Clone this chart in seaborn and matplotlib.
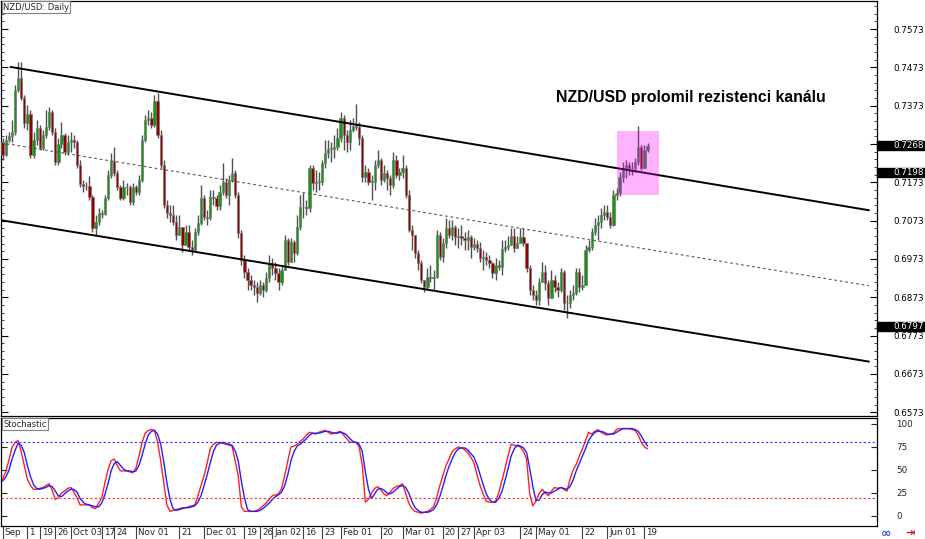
import numpy as np
import pandas as pd
import matplotlib
matplotlib.use("Agg")
import matplotlib.pyplot as plt
import matplotlib.transforms as mtransforms
from matplotlib.patches import Rectangle
from matplotlib.ticker import FixedLocator, FormatStrFormatter
import seaborn as sns

# daily NZD/USD candles, open = previous close
open_first = 0.7278
close = [
    0.7244, 0.7283, 0.7294, 0.7304, 0.7414, 0.7445, 0.7393, 0.7328, 0.7351, 0.7244,
    0.7283, 0.7315, 0.7262, 0.7296, 0.7317, 0.7356, 0.7304, 0.7226, 0.7273, 0.7296,
    0.7252, 0.7278, 0.7283, 0.7278, 0.7218, 0.7168, 0.7163, 0.7163, 0.7134, 0.7053,
    0.7069, 0.7093, 0.7090, 0.7132, 0.7192, 0.7228, 0.7197, 0.7160, 0.7132, 0.7160,
    0.7160, 0.7121, 0.7160, 0.7147, 0.7179, 0.7283, 0.7335, 0.7341, 0.7322, 0.7385,
    0.7296, 0.7218, 0.7113, 0.7093, 0.7087, 0.7069, 0.7035, 0.7056, 0.7009, 0.7043,
    0.7004, 0.6996, 0.7043, 0.7066, 0.7132, 0.7082, 0.7080, 0.7134, 0.7132, 0.7111,
    0.7147, 0.7174, 0.7140, 0.7179, 0.7197, 0.7140, 0.7040, 0.6970, 0.6939, 0.6918,
    0.6905, 0.6899, 0.6884, 0.6905, 0.6892, 0.6923, 0.6962, 0.6949, 0.6936, 0.6912,
    0.6944, 0.7022, 0.6965, 0.7017, 0.6988, 0.7056, 0.7108, 0.7108, 0.7106, 0.7210,
    0.7171, 0.7174, 0.7174, 0.7223, 0.7249, 0.7260, 0.7260, 0.7265, 0.7288, 0.7341,
    0.7296, 0.7278, 0.7309, 0.7320, 0.7317, 0.7288, 0.7187, 0.7200, 0.7174, 0.7174,
    0.7218, 0.7231, 0.7179, 0.7197, 0.7184, 0.7166, 0.7231, 0.7192, 0.7200, 0.7210,
    0.7140, 0.7048, 0.7035, 0.6988, 0.6962, 0.6918, 0.6899, 0.6925, 0.6923, 0.6925,
    0.7035, 0.6978, 0.7014, 0.7053, 0.7035, 0.7056, 0.7030, 0.7033, 0.7027, 0.7022,
    0.7030, 0.7004, 0.7012, 0.7001, 0.6975, 0.6978, 0.6970, 0.6962, 0.6936, 0.6957,
    0.6952, 0.6999, 0.7004, 0.7009, 0.7033, 0.7001, 0.7014, 0.7030, 0.7014, 0.6949,
    0.6892, 0.6878, 0.6865, 0.6912, 0.6939, 0.6910, 0.6871, 0.6918, 0.6899, 0.6892,
    0.6939, 0.6858, 0.6858, 0.6878, 0.6884, 0.6939, 0.6899, 0.6905, 0.6996, 0.7004,
    0.7043, 0.7061, 0.7069, 0.7087, 0.7095, 0.7082, 0.7061, 0.7140, 0.7145, 0.7187,
    0.7210, 0.7218, 0.7210, 0.7210, 0.7226, 0.7265, 0.7210, 0.7257, 0.7268,
]
high = [
    0.7288, 0.7296, 0.7304, 0.7335, 0.7427, 0.7487, 0.7487, 0.7401, 0.7375, 0.7362,
    0.7304, 0.7335, 0.7322, 0.7309, 0.7362, 0.7369, 0.7362, 0.7315, 0.7288, 0.7330,
    0.7301, 0.7296, 0.7304, 0.7296, 0.7283, 0.7231, 0.7179, 0.7174, 0.7189, 0.7140,
    0.7087, 0.7106, 0.7100, 0.7140, 0.7205, 0.7249, 0.7265, 0.7205, 0.7166, 0.7179,
    0.7171, 0.7166, 0.7171, 0.7166, 0.7192, 0.7296, 0.7348, 0.7362, 0.7356, 0.7401,
    0.7406, 0.7309, 0.7231, 0.7126, 0.7113, 0.7113, 0.7087, 0.7087, 0.7053, 0.7061,
    0.7061, 0.7022, 0.7053, 0.7087, 0.7166, 0.7140, 0.7100, 0.7153, 0.7153, 0.7140,
    0.7166, 0.7223, 0.7184, 0.7192, 0.7236, 0.7205, 0.7147, 0.7048, 0.6983, 0.6949,
    0.6931, 0.6918, 0.6912, 0.6918, 0.6912, 0.6939, 0.6983, 0.6975, 0.6965, 0.6949,
    0.6957, 0.7035, 0.7027, 0.7027, 0.7022, 0.7087, 0.7140, 0.7145, 0.7126, 0.7218,
    0.7218, 0.7205, 0.7200, 0.7231, 0.7283, 0.7283, 0.7278, 0.7296, 0.7315, 0.7356,
    0.7348, 0.7309, 0.7335, 0.7341, 0.7377, 0.7330, 0.7296, 0.7218, 0.7210, 0.7192,
    0.7231, 0.7257, 0.7236, 0.7218, 0.7205, 0.7192, 0.7252, 0.7244, 0.7210, 0.7244,
    0.7218, 0.7153, 0.7061, 0.7035, 0.6996, 0.6970, 0.6918, 0.6949, 0.6957, 0.6944,
    0.7048, 0.7043, 0.7027, 0.7080, 0.7074, 0.7074, 0.7061, 0.7053, 0.7061, 0.7043,
    0.7048, 0.7035, 0.7027, 0.7022, 0.7017, 0.6996, 0.6991, 0.6983, 0.6965, 0.6975,
    0.6970, 0.7022, 0.7022, 0.7033, 0.7053, 0.7053, 0.7033, 0.7053, 0.7053, 0.7014,
    0.6957, 0.6905, 0.6892, 0.6923, 0.6965, 0.6957, 0.6918, 0.6944, 0.6931, 0.6912,
    0.6949, 0.6944, 0.6878, 0.6892, 0.6905, 0.6949, 0.6949, 0.6931, 0.7009, 0.7022,
    0.7053, 0.7080, 0.7087, 0.7106, 0.7113, 0.7113, 0.7095, 0.7153, 0.7158, 0.7200,
    0.7226, 0.7231, 0.7226, 0.7226, 0.7236, 0.7320, 0.7270, 0.7270, 0.7275,
]
low = [
    0.7231, 0.7241, 0.7278, 0.7278, 0.7296, 0.7408, 0.7388, 0.7315, 0.7309, 0.7236,
    0.7236, 0.7270, 0.7257, 0.7257, 0.7288, 0.7309, 0.7296, 0.7218, 0.7218, 0.7262,
    0.7244, 0.7244, 0.7252, 0.7262, 0.7210, 0.7160, 0.7147, 0.7153, 0.7126, 0.7043,
    0.7035, 0.7061, 0.7080, 0.7087, 0.7126, 0.7184, 0.7189, 0.7153, 0.7126, 0.7126,
    0.7140, 0.7113, 0.7113, 0.7140, 0.7140, 0.7174, 0.7278, 0.7322, 0.7315, 0.7317,
    0.7288, 0.7210, 0.7106, 0.7080, 0.7069, 0.7061, 0.7022, 0.7035, 0.6991, 0.7022,
    0.6996, 0.6983, 0.6991, 0.7035, 0.7061, 0.7074, 0.7061, 0.7074, 0.7113, 0.7100,
    0.7100, 0.7140, 0.7132, 0.7113, 0.7174, 0.7132, 0.7027, 0.6957, 0.6923, 0.6892,
    0.6892, 0.6878, 0.6860, 0.6878, 0.6873, 0.6886, 0.6912, 0.6931, 0.6918, 0.6892,
    0.6905, 0.6949, 0.6957, 0.6975, 0.6965, 0.6983, 0.7048, 0.7080, 0.7087, 0.7095,
    0.7153, 0.7147, 0.7153, 0.7166, 0.7210, 0.7236, 0.7226, 0.7236, 0.7257, 0.7278,
    0.7257, 0.7252, 0.7257, 0.7304, 0.7309, 0.7270, 0.7174, 0.7174, 0.7166, 0.7126,
    0.7153, 0.7210, 0.7166, 0.7174, 0.7153, 0.7140, 0.7158, 0.7184, 0.7179, 0.7184,
    0.7132, 0.7043, 0.6996, 0.6975, 0.6944, 0.6910, 0.6886, 0.6892, 0.6912, 0.6892,
    0.6923, 0.6970, 0.6965, 0.7001, 0.7027, 0.7022, 0.7009, 0.7001, 0.7009, 0.6996,
    0.6996, 0.6975, 0.6996, 0.6991, 0.6965, 0.6944, 0.6957, 0.6949, 0.6923, 0.6918,
    0.6944, 0.6931, 0.6991, 0.6996, 0.7022, 0.6991, 0.7001, 0.7014, 0.7006, 0.6939,
    0.6878, 0.6865, 0.6852, 0.6852, 0.6912, 0.6892, 0.6852, 0.6871, 0.6886, 0.6873,
    0.6886, 0.6839, 0.6818, 0.6845, 0.6865, 0.6878, 0.6886, 0.6892, 0.6905, 0.6991,
    0.6996, 0.7035, 0.7022, 0.7053, 0.7074, 0.7074, 0.7053, 0.7059, 0.7126, 0.7137,
    0.7174, 0.7184, 0.7192, 0.7192, 0.7200, 0.7218, 0.7205, 0.7210, 0.7252,
]

# stochastic oscillator, main (red) and signal (blue)
stoch_main = [
    40, 48, 60, 74, 80, 82, 70, 55, 40, 33,
    29, 29, 30, 31, 33, 35, 28, 18, 20, 25,
    27, 30, 31, 26, 20, 12, 12, 13, 12, 9,
    8, 14, 20, 36, 50, 60, 62, 55, 49, 49,
    49, 48, 47, 52, 65, 80, 90, 93, 94, 93,
    80, 60, 36, 12, 5, 6, 7, 8, 9, 9,
    10, 11, 12, 22, 33, 44, 58, 73, 78, 80,
    80, 79, 78, 77, 76, 60, 44, 10, 5, 5,
    5, 5, 6, 8, 11, 14, 18, 22, 23, 24,
    30, 44, 60, 75, 76, 78, 81, 84, 88, 91,
    90, 89, 91, 92, 93, 91, 89, 90, 91, 92,
    88, 84, 80, 80, 80, 75, 55, 15, 18, 25,
    30, 32, 28, 24, 22, 26, 30, 32, 33, 35,
    25, 14, 8, 5, 4, 3, 4, 5, 7, 10,
    20, 33, 44, 55, 62, 70, 73, 75, 74, 72,
    69, 64, 58, 45, 33, 24, 16, 15, 15, 16,
    25, 38, 51, 65, 78, 77, 76, 75, 70, 62,
    24, 11, 16, 24, 29, 25, 22, 27, 31, 30,
    31, 29, 27, 40, 50, 56, 65, 73, 82, 91,
    89, 92, 94, 91, 89, 88, 89, 90, 94, 95,
    95, 95, 95, 94, 93, 88, 80, 75, 73,
]
stoch_signal = [
    38, 42, 49, 61, 71, 79, 77, 69, 55, 43,
    34, 30, 29, 30, 31, 33, 32, 27, 22, 21,
    24, 27, 29, 29, 26, 19, 15, 12, 12, 11,
    10, 10, 14, 23, 35, 49, 57, 59, 55, 51,
    49, 49, 48, 49, 55, 66, 78, 88, 92, 93,
    89, 78, 59, 36, 18, 8, 6, 7, 8, 9,
    9, 10, 11, 15, 22, 33, 45, 58, 70, 77,
    79, 80, 79, 78, 77, 71, 60, 38, 20, 7,
    5, 5, 5, 6, 8, 11, 14, 18, 21, 23,
    26, 33, 45, 60, 70, 76, 78, 81, 84, 88,
    90, 90, 90, 91, 92, 92, 91, 90, 90, 91,
    90, 88, 84, 81, 80, 78, 70, 48, 29, 19,
    24, 29, 30, 28, 25, 24, 26, 29, 32, 33,
    31, 25, 16, 9, 6, 4, 4, 4, 5, 7,
    12, 21, 32, 44, 54, 62, 69, 73, 74, 74,
    72, 68, 64, 56, 45, 34, 24, 18, 15, 15,
    19, 26, 38, 51, 65, 73, 77, 76, 74, 69,
    52, 32, 17, 17, 23, 26, 25, 25, 27, 29,
    31, 30, 29, 32, 39, 49, 57, 65, 73, 82,
    87, 91, 92, 92, 91, 89, 89, 89, 91, 93,
    95, 95, 95, 95, 94, 92, 87, 81, 76,
]

price_ticks = [0.7573, 0.7473, 0.7373, 0.7273, 0.7173, 0.7073, 0.6973,
               0.6873, 0.6773, 0.6673, 0.6573]
marked_prices = [0.7268, 0.7198, 0.6797]

date_pos = [0, 8, 12, 17, 22, 32, 36, 43, 57, 65, 78, 83, 87, 97, 103,
            109, 122, 129, 142, 147, 152, 167, 172, 187, 195, 207]
date_labels = ["Sep", "1", "19", "26", "Oct 03", "17", "24", "Nov 01", "21",
               "Dec 01", "19", "26", "Jan 02", "16", "23", "Feb 01", "20",
               "Mar 01", "20", "27", "Apr 03", "24", "May 01", "22", "Jun 01", "19"]

# trend channel anchors (bar, price)
upper_x, upper_y = [2.6, 279.4], [0.7474, 0.7100]
middle_x, middle_y = [-0.5, 279.4], [0.7276, 0.6903]
lower_x, lower_y = [-0.5, 279.4], [0.7074, 0.6705]
box_x, box_y = [198.1, 211.6], [0.7140, 0.7307]

df = pd.DataFrame({"close": close, "high": high, "low": low})
df["open"] = [open_first] + close[:-1]
df["bar"] = np.arange(len(df))
df["up"] = df["close"] >= df["open"]
df["body_lo"] = df[["open", "close"]].min(axis=1)
df["body_h"] = (df["close"] - df["open"]).abs().clip(lower=0.00012)
df["high"] = df[["high", "open", "close"]].max(axis=1)
df["low"] = df[["low", "open", "close"]].min(axis=1)

sns.set_style("white")
plt.rcParams["font.family"] = ["DejaVu Sans"]

W, H = 925, 539
fig = plt.figure(figsize=(W / 100, H / 100), dpi=100)
ax = fig.add_axes([1 / W, 1 - 416 / H, 876 / W, 415 / H])
ax2 = fig.add_axes([1 / W, 1 - 526 / H, 876 / W, 108 / H])

# candles
ax.vlines(df["bar"], df["low"], df["high"], color="#505050", linewidth=1.0, zorder=2)
ax.bar(df["bar"], df["body_h"], bottom=df["body_lo"], width=0.74,
       color=np.where(df["up"], "#109a10", "#920000"),
       edgecolor="#7a7a7a", linewidth=0.5, zorder=3)

# channel
ax.plot(upper_x, upper_y, color="black", linewidth=1.4, zorder=4)
ax.plot(lower_x, lower_y, color="black", linewidth=1.4, zorder=4)
ax.plot(middle_x, middle_y, color="#555555", linewidth=0.8,
        linestyle=(0, (2.5, 2.5)), zorder=4)
ax.add_patch(Rectangle((box_x[0], box_y[0]), box_x[1] - box_x[0], box_y[1] - box_y[0],
                       facecolor="magenta", alpha=0.3, edgecolor="none", zorder=5))

ax.text(222, 0.7395, "NZD/USD prolomil rezistenci kanálu", ha="center", va="center",
        fontsize=11.4, fontweight="bold", color="black",
        family=["Liberation Sans", "DejaVu Sans"])

ax.set_xlim(-0.5, 282)
ax.set_ylim(0.6563, 0.76461)
ax.set_xticks([])
ax.yaxis.tick_right()
ax.yaxis.set_major_locator(FixedLocator(price_ticks))
ax.yaxis.set_minor_locator(FixedLocator(np.round(np.arange(0.6553, 0.7653, 0.002), 4)))
ax.yaxis.set_major_formatter(FormatStrFormatter("%.4f"))
ax.tick_params(axis="y", which="major", direction="in", length=5, width=0.8,
               labelsize=6.3, pad=11.5, left=True, right=True, colors="black")
ax.tick_params(axis="y", which="minor", direction="in", length=2.5, width=0.6,
               left=True, right=True)
for s in ax.spines.values():
    s.set_color("black")
    s.set_linewidth(0.9)

trans = mtransforms.blended_transform_factory(ax.transAxes, ax.transData)
for p in marked_prices:
    ax.add_patch(Rectangle((1.0, p - 0.00118), 48 / 876, 0.00236, transform=trans,
                           facecolor="black", edgecolor="black", clip_on=False, zorder=10))
    ax.text(1 + 16 / 876, p, f"{p:.4f}", transform=trans, color="white", fontsize=6.3,
            va="center", ha="left", zorder=11, clip_on=False)

ax.text(2 / 876, 0.996, "NZD/USD: Daily", transform=ax.transAxes, fontsize=6,
        ha="left", va="top", zorder=12,
        bbox=dict(boxstyle="square,pad=0.15", facecolor="white", edgecolor="#808080", linewidth=0.8))

# stochastic panel
sns.lineplot(x=df["bar"], y=stoch_main, ax=ax2, color="#ff2020", linewidth=1.0)
sns.lineplot(x=df["bar"], y=stoch_signal, ax=ax2, color="#2020ff", linewidth=1.0)
ax2.axhline(80, color="#3030ff", linewidth=0.8, linestyle=(0, (2, 2)))
ax2.axhline(20, color="#ff3030", linewidth=0.8, linestyle=(0, (2, 2)))
ax2.set_xlim(-0.5, 282)
ax2.set_ylim(-10.9, 106.5)
ax2.set_xlabel("")
ax2.set_ylabel("")
ax2.yaxis.tick_right()
ax2.set_yticks([0, 25, 50, 75, 100])
ax2.tick_params(axis="y", direction="in", length=4, width=0.8, labelsize=6.3, pad=14,
                left=True, right=True)
ax2.set_xticks(date_pos)
ax2.set_xticklabels(date_labels)
ax2.tick_params(axis="x", direction="out", length=9, width=0.8, color="#404040",
                labelsize=6.3, pad=-7.5, bottom=True)
shift = mtransforms.ScaledTranslation(2 / 100, 0, fig.dpi_scale_trans)
for lab in ax2.get_xticklabels():
    lab.set_horizontalalignment("left")
    lab.set_transform(lab.get_transform() + shift)
for s in ax2.spines.values():
    s.set_color("black")
    s.set_linewidth(0.9)
ax2.text(2 / 876, 0.985, "Stochastic", transform=ax2.transAxes, fontsize=6,
         ha="left", va="top", zorder=12,
         bbox=dict(boxstyle="square,pad=0.15", facecolor="white", edgecolor="#808080", linewidth=0.8))

fig.text(886 / W, 1 - 533 / H, "∞", color="#1f4fd0", fontsize=9, fontweight="bold",
         ha="center", va="center")
fig.text(910 / W, 1 - 533 / H, "⇥", color="#e01010", fontsize=8, fontweight="bold",
         ha="center", va="center")

fig.savefig("out.png", dpi=100)
